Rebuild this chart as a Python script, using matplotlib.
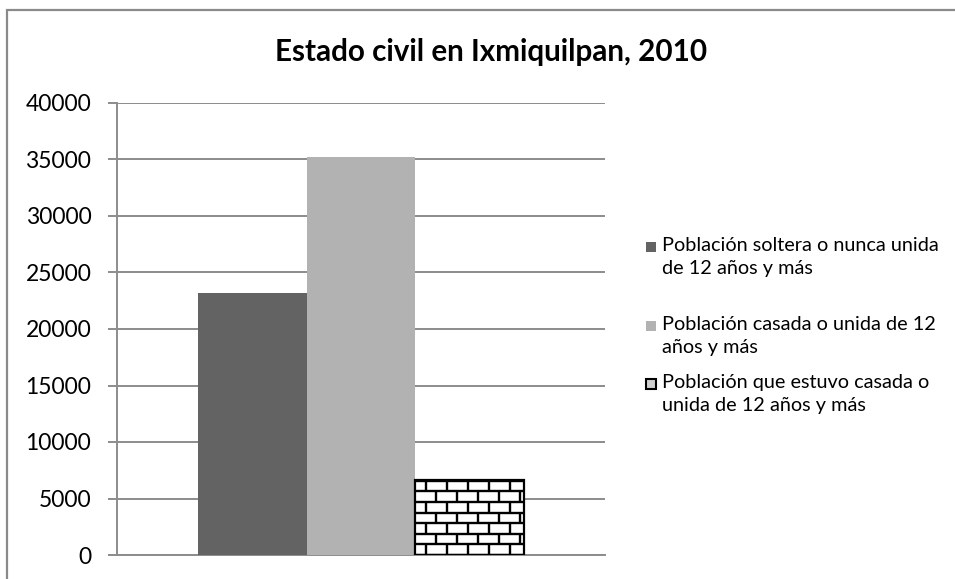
import numpy as np
import matplotlib
matplotlib.use('Agg')
import matplotlib.pyplot as plt
from matplotlib.patches import Rectangle

plt.rcParams['font.family'] = ['Lato', 'DejaVu Sans']

# Datos
etiquetas = ['Población soltera o nunca unida\nde 12 años y más',
             'Población casada o unida de 12\naños y más',
             'Población que estuvo casada o\nunida de 12 años y más']
valores = [23200, 35250, 6640]
colores = ['#636363', '#b2b2b2', '#ffffff']
yticks = [0, 5000, 10000, 15000, 20000, 25000, 30000, 35000, 40000]
titulo = 'Estado civil en Ixmiquilpan, 2010'

W, H, DPI = 955, 579, 100
fig = plt.figure(figsize=(W / DPI, H / DPI), dpi=DPI)

# marco gris del gráfico
fig.patches.append(Rectangle((7 / W, -0.02), 1.0, 1 - 10 / H + 0.02, transform=fig.transFigure,
                             fill=False, edgecolor='#8a8a8a', linewidth=1.6))

ax = fig.add_axes([117 / W, 1 - 555 / H, (605 - 117) / W, (555 - 103) / H])
ax.set_xlim(-0.5, 0.5)
ax.set_ylim(0, 40000)

ancho = 0.2227
pos = (np.arange(len(valores)) - 1) * ancho
barras = ax.bar(pos, valores, width=ancho, color=colores, edgecolor='none', zorder=3)

# patrón de ladrillos para la tercera barra
b = barras[2]
b.set_edgecolor('black')
b.set_linewidth(1.6)
px_y = ax.get_position().height * H / 40000.0
px_x = ax.get_position().width * W / 1.0
alto_l = 10.6 / px_y
ancho_l = 21.0 / px_x
x0, x1 = b.get_x(), b.get_x() + b.get_width()
top = b.get_height()
k = 0
y = 0.0
while y < top:
    ax.plot([x0, x1], [y, y], color='black', lw=1.7, zorder=4, clip_path=b, solid_capstyle='butt')
    off = 0.0 if k % 2 == 0 else ancho_l / 2
    xv = x0 + off + ancho_l * 0.5
    while xv < x1:
        ax.plot([xv, xv], [y, min(y + alto_l, top)], color='black', lw=1.7, zorder=4,
                clip_path=b, solid_capstyle='butt')
        xv += ancho_l
    y += alto_l
    k += 1

ax.set_yticks(yticks)
ax.set_xticks([])
ax.grid(axis='y', color='#8c8c8c', linewidth=1.4, zorder=1)
for s in ['top', 'right']:
    ax.spines[s].set_visible(False)
for s in ['left', 'bottom']:
    ax.spines[s].set_color('#8c8c8c')
    ax.spines[s].set_linewidth(1.4)
ax.tick_params(axis='y', length=6.5, width=1.4, color='#8c8c8c', pad=12, labelsize=16.5,
               labelcolor='black')

fig.text(0.514, 1 - 52 / H, titulo, ha='center', va='center', fontsize=21.3, fontweight='bold')

# leyenda
ys = [247, 326, 384]
for i, (lab, col) in enumerate(zip(etiquetas, colores)):
    yy = 1 - ys[i] / H
    if i < 2:
        fig.patches.append(Rectangle((646 / W, yy - 5 / H), 10 / W, 10 / H, transform=fig.transFigure,
                                     facecolor=col, edgecolor='none'))
    else:
        fig.patches.append(Rectangle((646 / W, yy - 5 / H), 10 / W, 10 / H, transform=fig.transFigure,
                                     facecolor='#d0d0d0', edgecolor='black', linewidth=1.5))
    fig.text(662 / W, yy + 10 / H, lab, ha='left', va='top', fontsize=14.3, linespacing=1.42)

fig.savefig('out.png', dpi=DPI)
